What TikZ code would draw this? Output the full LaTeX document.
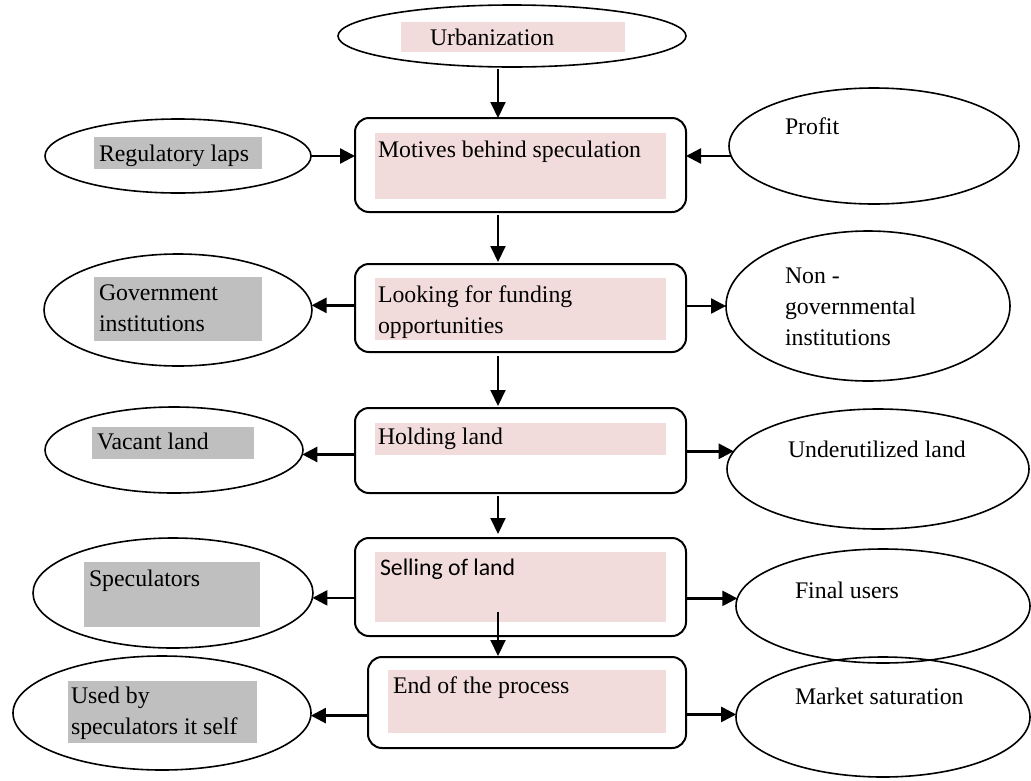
\documentclass[tikz,border=0pt]{standalone}
\usepackage{fontspec}
\setmainfont{Liberation Serif}
\newfontfamily\calfont{Carlito}
\usetikzlibrary{shapes.geometric,arrows.meta}
\definecolor{pinkbg}{RGB}{242,220,219}
\definecolor{graybg}{RGB}{191,191,191}
\begin{document}
\begin{tikzpicture}[x=1pt,y=-1pt,
  ell/.style={draw, ellipse, line width=1.6pt, inner sep=0pt, outer sep=0pt},
  stagebox/.style={draw, rectangle, line width=2pt, rounded corners=14pt, inner sep=0pt, outer sep=0pt},
  lbl/.style={anchor=base west, inner sep=0pt, outer sep=0pt, font=\fontsize{23.8}{31}\selectfont, align=left},
  sanslbl/.style={lbl, font=\calfont\fontsize{23.8}{31}\selectfont},
  varrow/.style={line width=2pt, -{Triangle[length=16pt,width=15pt]}},
  harrow/.style={line width=2.5pt, -{Triangle[length=15pt,width=15pt]}},
]
\useasboundingbox (0,0) rectangle (1031,780);

% ellipses
\node[ell, minimum width=348pt, minimum height=62pt]  (urb)    at (512,36)  {};
\node[ell, minimum width=266pt, minimum height=74pt]  (reg)    at (178,156) {};
\node[ell, minimum width=290pt, minimum height=116pt] (profit) at (874,146) {};
\node[ell, minimum width=268pt, minimum height=112pt] (gov)    at (178,310) {};
\node[ell, minimum width=284pt, minimum height=150pt] (nongov) at (868,306) {};
\node[ell, minimum width=258pt, minimum height=86pt]  (vac)    at (174,450) {};
\node[ell, minimum width=302pt, minimum height=120pt] (under)  at (878,469) {};
\node[ell, minimum width=280pt, minimum height=110pt] (spec)   at (173,593) {};
\node[ell, minimum width=294pt, minimum height=114pt] (final)  at (883,606) {};
\node[ell, minimum width=298pt, minimum height=114pt] (used)   at (162,713) {};
\node[ell, minimum width=294pt, minimum height=120pt] (market) at (883,717) {};

% stage boxes
\node[stagebox, minimum width=331pt, minimum height=94pt] (mot)  at (520.5,165)   {};
\node[stagebox, minimum width=331pt, minimum height=88pt] (look) at (520.5,308)   {};
\node[stagebox, minimum width=331pt, minimum height=85pt] (hold) at (520.5,450.5) {};
\node[stagebox, minimum width=331pt, minimum height=98pt] (sell) at (520.5,587)   {};
\node[stagebox, minimum width=318pt, minimum height=91pt] (endp) at (527,702.5)   {};

% highlights
\fill[pinkbg] (401,22) rectangle (625,52);
\fill[pinkbg] (375,133) rectangle (666,199);
\fill[pinkbg] (375,278) rectangle (666,340);
\fill[pinkbg] (375,423) rectangle (666,455);
\fill[pinkbg] (375,552) rectangle (666,622);
\fill[pinkbg] (388,670) rectangle (666,733);
\fill[graybg] (94,137) rectangle (262,169);
\fill[graybg] (94,277) rectangle (262,341);
\fill[graybg] (92,427) rectangle (254,459);
\fill[graybg] (84,562) rectangle (260,627);
\fill[graybg] (68,681) rectangle (257,743);

% texts (base west = baseline of the last line)
\node[lbl] (turb)    at (430,45)  {Urbanization};
\node[lbl] (tmot)    at (378,157) {Motives behind speculation};
\node[lbl] (treg)    at (99,161)  {Regulatory laps};
\node[lbl] (tprofit) at (785,134) {Profit};
\node[lbl] (tgov)    at (99,331)  {Government\\institutions};
\node[lbl] (tlook)   at (378,333) {Looking for funding\\opportunities};
\node[lbl] (tnongov) at (785,345) {Non -\\governmental\\institutions};
\node[lbl] (thold)   at (378,444) {Holding land};
\node[lbl] (tvac)    at (97,449)  {Vacant land};
\node[lbl] (tunder)  at (788,457) {Underutilized land};
\node[sanslbl] (tsell) at (380,575) {Selling of land};
\node[lbl] (tspec)   at (89,586)  {Speculators};
\node[lbl] (tfinal)  at (795,598) {Final users};
\node[lbl] (tend)    at (393,693) {End of the process};
\node[lbl] (tused)   at (71,734)  {Used by\\speculators it self};
\node[lbl] (tmarket) at (795,704) {Market saturation};

% vertical connectors
\coordinate (ax) at (498,0);
\coordinate (s1) at (498,612);
\draw[varrow, shorten <=2pt] (urb.south -| ax) -- (mot.north -| ax);
\draw[varrow, shorten <=3pt, shorten >=2pt] (mot.south -| ax) -- (look.north -| ax);
\draw[varrow, shorten <=4pt, shorten >=2pt] (look.south -| ax) -- (hold.north -| ax);
\draw[varrow, shorten <=3pt, shorten >=4pt] (hold.south -| ax) -- (sell.north -| ax);
\draw[varrow, shorten >=1pt] (s1) -- (endp.north -| ax);

% horizontal connectors
\draw[harrow] (reg.east) -- (reg.east -| mot.west);
\draw[harrow] (profit.184) -- (profit.184 -| mot.east);
\draw[harrow] (look.west |- gov.2) -- (gov.2);
\draw[harrow] (look.east |- nongov.west) -- (nongov.west);
\draw[harrow] (hold.west |- vac.358) -- (vac.358);
\draw[harrow] (hold.east |- under.173) -- (under.173);
\draw[harrow] (sell.west |- spec.358) -- (spec.358);
\draw[harrow] (sell.east |- final.177) -- (final.177);
\draw[harrow] (endp.west |- used.359) -- (used.359);
\draw[harrow] (endp.east |- market.179) -- (market.179);
\end{tikzpicture}
\end{document}
